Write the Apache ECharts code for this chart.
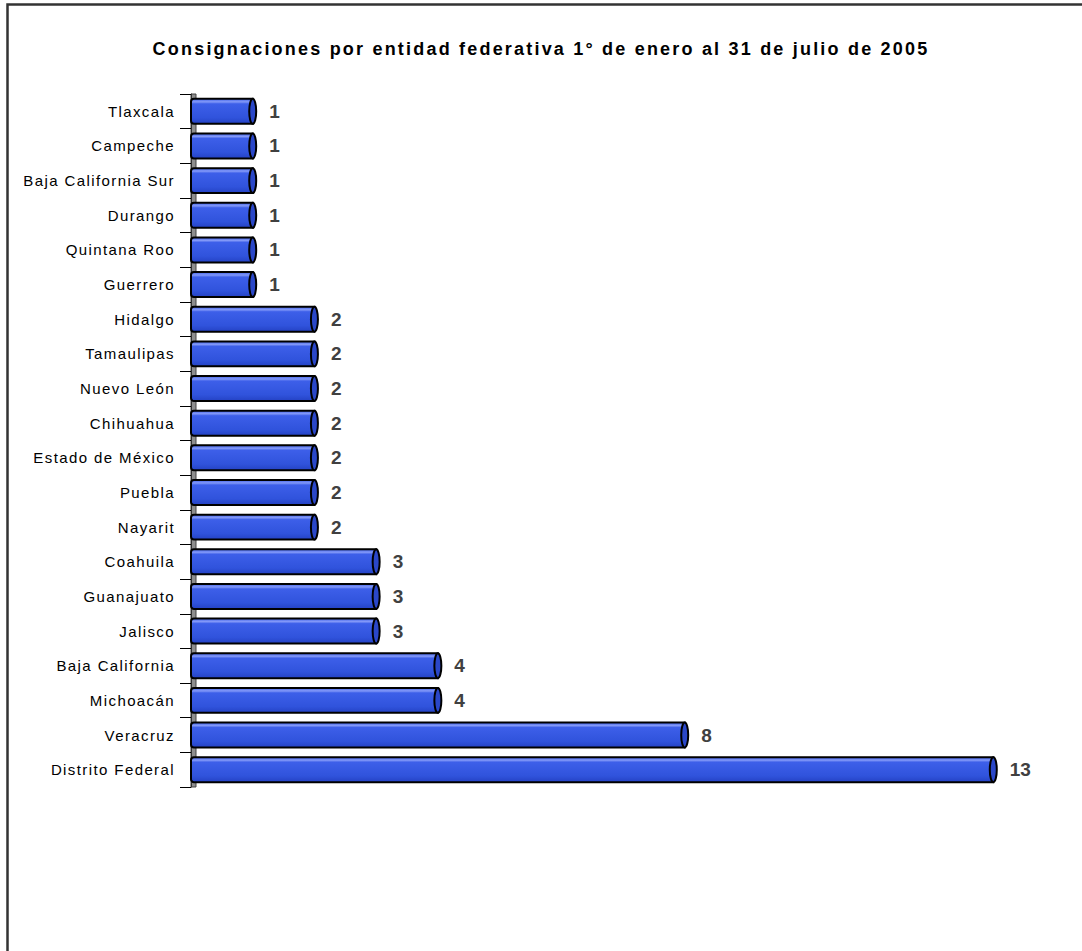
<!DOCTYPE html>
<html>
<head>
<meta charset="utf-8">
<script src="https://cdn.jsdelivr.net/npm/echarts@6/dist/echarts.min.js"></script>
<style>
  html, body { margin: 0; padding: 0; background: #fff; }
  #chart { width: 1082px; height: 951px; }
</style>
</head>
<body>
<div id="chart"></div>
<script>
// States, listed top to bottom
const entidades = [
  'Tlaxcala', 'Campeche', 'Baja California Sur', 'Durango', 'Quintana Roo',
  'Guerrero', 'Hidalgo', 'Tamaulipas', 'Nuevo León', 'Chihuahua',
  'Estado de México', 'Puebla', 'Nayarit', 'Coahuila', 'Guanajuato',
  'Jalisco', 'Baja California', 'Michoacán', 'Veracruz', 'Distrito Federal'
];
// Number of consignments per state
const consignaciones = [
  1, 1, 1, 1, 1,
  1, 2, 2, 2, 2,
  2, 2, 2, 3, 3,
  3, 4, 4, 8, 13
];
const titulo = 'Consignaciones por entidad federativa 1° de enero al 31 de julio de 2005';

const chart = echarts.init(document.getElementById('chart'), null, { renderer: 'svg' });

const GRID = { left: 191, top: 94, width: 864, height: 693 };
const FONT = '"Liberation Sans", Arial, sans-serif';

// Cylinder-like horizontal bar: body with gradient plus a rounded end cap
function renderBar(params, api) {
  const val = api.value(0);
  const idx = api.value(1);
  const start = api.coord([0, idx]);
  const end = api.coord([val, idx]);
  const band = api.size([0, 1])[1];
  const h = band * 0.72;
  const y0 = start[1] - h / 2;
  const capR = 3.5;
  return {
    type: 'group',
    children: [
      {
        type: 'rect',
        shape: { x: start[0], y: y0, width: end[0] - start[0], height: h, r: [3, 0, 0, 3] },
        style: {
          fill: new echarts.graphic.LinearGradient(0, 0, 0, 1, [
            { offset: 0, color: '#4062ea' },
            { offset: 0.12, color: '#8399f8' },
            { offset: 0.2, color: '#3d5fe9' },
            { offset: 0.75, color: '#3053dc' },
            { offset: 1, color: '#2442c4' }
          ]),
          stroke: '#000',
          lineWidth: 2
        }
      },
      {
        type: 'ellipse',
        shape: { cx: end[0], cy: start[1], rx: capR, ry: h / 2 },
        style: { fill: '#2a47c8', stroke: '#000', lineWidth: 2 }
      },
      {
        type: 'text',
        style: {
          x: end[0] + capR + 13,
          y: start[1],
          text: String(val),
          font: 'bold 19px ' + FONT,
          fill: '#404040',
          verticalAlign: 'middle',
          align: 'left'
        }
      }
    ]
  };
}

chart.setOption({
  animation: false,
  backgroundColor: '#fff',
  title: {
    text: titulo,
    left: 'center',
    top: 35,
    textStyle: {
      fontFamily: FONT,
      fontWeight: 'bold',
      fontSize: 18,
      color: '#000'
    }
  },
  grid: GRID,
  xAxis: {
    type: 'value',
    min: 0,
    max: 14,
    show: false
  },
  yAxis: {
    type: 'category',
    data: entidades,
    inverse: true,
    boundaryGap: true,
    axisLine: { show: true, lineStyle: { color: '#333', width: 1 } },
    axisTick: { show: true, length: 11, lineStyle: { color: '#000', width: 1 } },
    axisLabel: {
      margin: 16,
      fontFamily: FONT,
      fontSize: 15,
      color: '#000'
    },
    splitLine: { show: false }
  },
  graphic: [
    {
      type: 'rect',
      silent: true,
      z: -1,
      shape: { x: 7.5, y: 4.5, width: 1200, height: 1100 },
      style: { fill: 'none', stroke: '#333', lineWidth: 2.5 }
    },
    {
      type: 'rect',
      silent: true,
      z: 0,
      shape: { x: 191, y: GRID.top, width: 5, height: GRID.height },
      style: { fill: '#8e8e8e', stroke: '#444', lineWidth: 1 }
    }
  ],
  series: [
    {
      type: 'custom',
      renderItem: renderBar,
      encode: { x: 0, y: 1 },
      z: 5,
      data: consignaciones.map((v, i) => [v, i])
    }
  ]
});

// Widen the tracking of the title and the state names
function applySpacing() {
  const texts = document.querySelectorAll('#chart svg text');
  texts.forEach(function (t) {
    const s = t.textContent;
    if (s === titulo) {
      t.style.letterSpacing = '2.2px';
    } else if (entidades.indexOf(s) >= 0) {
      t.style.letterSpacing = '1.4px';
    }
  });
}
chart.on('finished', applySpacing);
applySpacing();
</script>
</body>
</html>
